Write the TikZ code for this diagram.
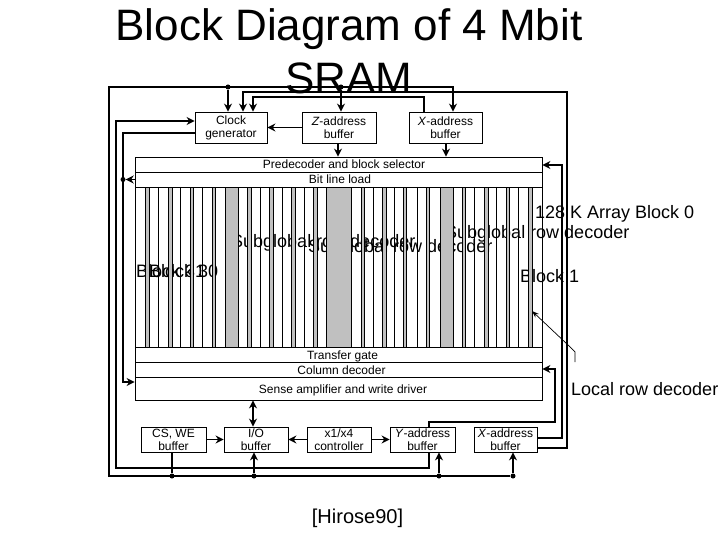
\documentclass[tikz,border=0pt]{standalone}
\usepackage{fontspec}
\setmainfont{Liberation Sans}
\usetikzlibrary{arrows.meta}
\newcommand{\sizepx}[1]{\fontsize{#1}{13}\selectfont}
\begin{document}
\begin{tikzpicture}[x=1pt,y=-1pt,>={Stealth[length=8pt,width=8pt]},
  box/.style={draw,line width=0.8pt,inner sep=0pt,align=center,font=\sizepx{12}},
  wire/.style={line width=1.7pt},
  band/.style={draw,line width=0.8pt,inner sep=0pt,minimum width=407pt,font=\sizepx{12},text height=10pt,text depth=1pt},
  slab/.style={inner sep=0pt,font=\sizepx{18},text height=13pt,text depth=4pt},
  dot/.style={circle,fill,inner sep=0pt,minimum size=5pt}]
\useasboundingbox (0,0) rectangle (720,540);
\node[align=center,inner sep=0pt,font=\fontsize{44}{53}\selectfont] (title) at (349,51) {Block Diagram of 4 Mbit\\SRAM};
% labels lie under the stripes
\node[slab,anchor=west] (array0) at (535,214) {128 K Array Block 0};
\node[slab,anchor=west] (sub1) at (231,243) {Subglobal row decoder};
\node[slab,anchor=west] (sub2) at (308,248) {Subglobal row decoder};
\node[slab,anchor=west] (sub3) at (445,234) {Subglobal row decoder};
\node[slab,anchor=west] (blk31) at (136,273) {Block 31};
\node[slab,anchor=west] (blk30) at (149,273) {Block 30};
\node[slab,anchor=west] (blk1) at (520,278) {Block 1};
\node[slab,anchor=west] (local) at (571,391) {Local row decoder};
\node[slab,font=\sizepx{20}] (cite) at (357.5,519) {[Hirose90]};
% array stripes
\foreach \sx/\sw in {145.5/3.5,168/4,190/3.5,212/3.5,225/13.5,247.5/4,269.5/4,291.5/3.5,313.5/3.5,326.5/24.5,
  361/3.5,382/4,403/3.5,426/3.5,440/13,462/3.5,484/4,506/3.5,528/4}
  \draw[line width=0.7pt,fill={rgb,255:red,192;green,192;blue,192}] (\sx,187) rectangle (\sx+\sw,347);
\foreach \sx in {158,180,202,260,282,304,373,394,417,474,496,518}
  \draw[line width=0.7pt] (\sx,187) -- (\sx,347);
% main block
\node[band,minimum height=15pt] (predec) at (338.5,164.5) {\hspace{11pt}Predecoder and block selector};
\node[band,minimum height=15pt] (bitload) at (338.5,179.5) {\hspace{3pt}Bit line load};
\node[band,minimum height=160pt] (array) at (338.5,267) {};
\node[band,minimum height=15pt] (transfer) at (338.5,354.5) {\hspace{8pt}Transfer gate};
\node[band,minimum height=15pt] (column) at (338.5,369.5) {\hspace{6pt}Column decoder};
\node[band,minimum height=23pt] (sense) at (338.5,388.5) {\hspace{9pt}Sense amplifier and write driver};
% buffers
\node[box,minimum width=72pt,minimum height=31pt] (clock) at (231,127.5) {Clock\\generator};
\node[box,minimum width=74pt,minimum height=31pt] (zbuf) at (339,127.5) {\textit{Z}-address\\buffer};
\node[box,minimum width=73pt,minimum height=31pt] (xtop) at (445.5,127.5) {\textit{X}-address\\buffer};
\node[box,minimum width=65pt,minimum height=25pt] (cswe) at (173.5,439.5) {CS, WE\\buffer};
\node[box,minimum width=64pt,minimum height=25pt] (iobuf) at (256,439.5) {I/O\\buffer};
\node[box,minimum width=64pt,minimum height=25pt] (ctrl) at (339,439.5) {x1/x4\\controller};
\node[box,minimum width=65pt,minimum height=25pt] (ybuf) at (422.5,439.5) {\textit{Y}-address\\buffer};
\node[box,minimum width=63pt,minimum height=25pt] (xbot) at (505.5,439.5) {\textit{X}-address\\buffer};
% junctions on the outer loop
\node[dot] (jclk) at (228,87) {};
\node[dot] (jz) at (341,87) {};
\node[dot] (jcs) at (172,476) {};
\node[dot] (jio) at (254,476) {};
\node[dot] (jy) at (439,476) {};
\node[dot] (jx) at (513,476) {};
\node[dot] (jbit) at (123,179.5) {};
\coordinate (topx) at (453,87);
\coordinate (corntl) at (109,87);
\coordinate (corntr) at (567,92);
\coordinate (cornbl) at (109,476);
\draw[wire,->] (jx) -- (jx |- xbot.south);
\draw[wire,->] (jy) -- (jy |- ybuf.south);
\draw[wire,->] (jio) -- (jio |- iobuf.south);
\draw[wire] (jcs) -- (jcs |- cswe.south);
\draw[wire,->] (jclk) -- (jclk |- clock.north);
\draw[wire,->] (jz) -- (jz |- zbuf.north);
\draw[wire,->] (jx) -- (cornbl) -- (corntl) -- (topx) -- (topx |- xtop.north);
% clock lines
\draw[wire,->] (429,0 |- ybuf.south) -- (429,468) -- (116,468) -- (116,121) -- (clock.west |- 0,121);
\draw[wire,->] (clock.west |- 0,133) -- (123,133) -- (123,382) -- (sense.west |- 0,382);
\draw[wire,->] (bitload.west) -- (jbit);
\draw[wire,->] (zbuf.west) -- (clock.east);
\draw[wire,->] (xbot.east |- 0,448) -- (corntr |- 0,448) -- (corntr) -- (243,92) -- (243,0 |- clock.north);
\draw[wire,->] (424,0 |- xtop.north) -- (424,97) -- (253,97) -- (253,0 |- clock.north);
% address lines
\draw[wire,->] (338,0 |- zbuf.south) -- (338,0 |- predec.north);
\draw[wire,->] (446,0 |- xtop.south) -- (446,0 |- predec.north);
\draw[wire,->] (xbot.east |- 0,438) -- (562,438) -- (562,165) -- (predec.east |- 0,165);
\draw[wire,->] (429,0 |- ybuf.north) -- (429,422) -- (555,422) -- (555,369) -- (column.east |- 0,369);
% bottom row
\draw[wire,<->] (253,0 |- iobuf.north) -- (253,0 |- sense.south);
\draw[wire,->] (cswe.east) -- (iobuf.west);
\draw[wire,->] (ctrl.west) -- (iobuf.east);
\draw[wire,->] (ctrl.east) -- (ybuf.west);
% pointer to the local decoder
\coordinate (ptr) at (575,362);
\draw[line width=0.7pt,-{Stealth[length=7pt,width=5pt]}] (ptr) -- (575,352) -- (568,345) -- (532,311);
\end{tikzpicture}
\end{document}
